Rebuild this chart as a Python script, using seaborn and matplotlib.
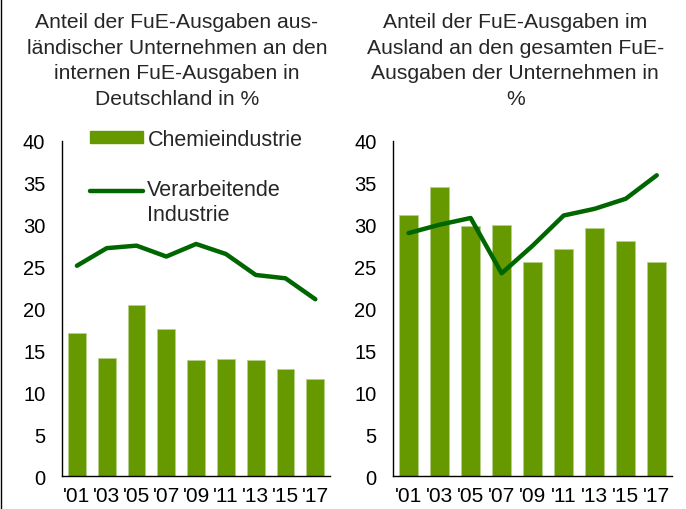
import matplotlib
matplotlib.use("Agg")
import matplotlib.pyplot as plt
import seaborn as sns
import pandas as pd
from matplotlib.patches import Patch
from matplotlib.lines import Line2D
from matplotlib.legend_handler import HandlerLine2D

years = ["'01", "'03", "'05", "'07", "'09", "'11", "'13", "'15", "'17"]

# left panel: share of foreign companies in internal R&D spending in Germany
chem_left = [17.1, 14.1, 20.4, 17.5, 13.9, 14.0, 13.9, 12.8, 11.6]
manu_left = [25.1, 27.2, 27.5, 26.2, 27.7, 26.5, 24.0, 23.6, 21.1]

# right panel: share of R&D spending abroad
chem_right = [31.1, 34.5, 29.8, 30.0, 25.5, 27.1, 29.6, 28.0, 25.6]
manu_right = [29.0, 30.0, 30.8, 24.2, 27.5, 31.1, 31.9, 33.1, 35.9]

titles = ["Anteil der FuE-Ausgaben aus-\nländischer Unternehmen an den\ninternen FuE-Ausgaben in\nDeutschland in %",
          "Anteil der FuE-Ausgaben im\nAusland an den gesamten FuE-\nAusgaben der Unternehmen in\n%"]
legend_labels = ["Chemieindustrie", "Verarbeitende\nIndustrie"]

bar_color = "#669900"
line_color = "#006600"


class TopLine(HandlerLine2D):
    # put the line next to the first text row, not the middle of two rows
    def create_artists(self, legend, orig_handle, xdescent, ydescent,
                       width, height, fontsize, trans):
        return super().create_artists(legend, orig_handle, xdescent, ydescent - 18,
                                      width, height, fontsize, trans)


sns.set_theme(style="white")
plt.rcParams['font.family'] = ['Liberation Sans', 'DejaVu Sans']

fig = plt.figure(figsize=(6.86, 5.10), dpi=100)
ax1 = fig.add_axes([0.0904, 0.0647, 0.391, 0.657])
ax2 = fig.add_axes([0.573, 0.0647, 0.407, 0.657])

panels = [(ax1, chem_left, manu_left), (ax2, chem_right, manu_right)]
for ax, bars, line in panels:
    df = pd.DataFrame({"year": years, "chem": bars, "manu": line})
    sns.barplot(data=df, x="year", y="chem", color=bar_color, saturation=1,
                width=0.6, edgecolor="#b5d08a", linewidth=0.6, ax=ax)
    sns.lineplot(data=df, x="year", y="manu", color=line_color, linewidth=3.2,
                 sort=False, ax=ax)
    ax.set_ylim(0, 40)
    ax.set_xlim(-0.5, 8.5)
    ax.set_yticks(range(0, 41, 5))
    ax.set_xlabel("")
    ax.set_ylabel("")
    ax.tick_params(axis="both", length=0, labelsize=14.5, colors="black")
    ax.tick_params(axis="x", labelsize=15, pad=7)
    ax.tick_params(axis="y", pad=12)
    sns.despine(ax=ax)
    for s in ["left", "bottom"]:
        ax.spines[s].set_color("black")
        ax.spines[s].set_linewidth(1.0)

# titles centred above each panel
fig.text(0.258, 0.974, titles[0], ha="center", va="top", fontsize=15.2, linespacing=1.44)
fig.text(0.751, 0.974, titles[1], ha="center", va="top", fontsize=15.2, linespacing=1.44)

handles = [Patch(facecolor=bar_color, edgecolor=bar_color),
           Line2D([0], [0], color=line_color, linewidth=3.2)]
leg = ax1.legend(handles, legend_labels, loc="upper left", bbox_to_anchor=(0.104, 1.036),
                 frameon=False, fontsize=15.5, handlelength=2.47, handleheight=0.5,
                 handletextpad=0.2, labelspacing=1.35, borderpad=0, borderaxespad=0,
                 handler_map={Line2D: TopLine()})
for t in leg.get_texts():
    t.set_linespacing(1.26)

# thin frame line on the left edge of the image
fig.add_artist(Line2D([0.0015, 0.0015], [0, 1], color="black", linewidth=1.0,
                      transform=fig.transFigure))

fig.savefig("out.png", dpi=100)
